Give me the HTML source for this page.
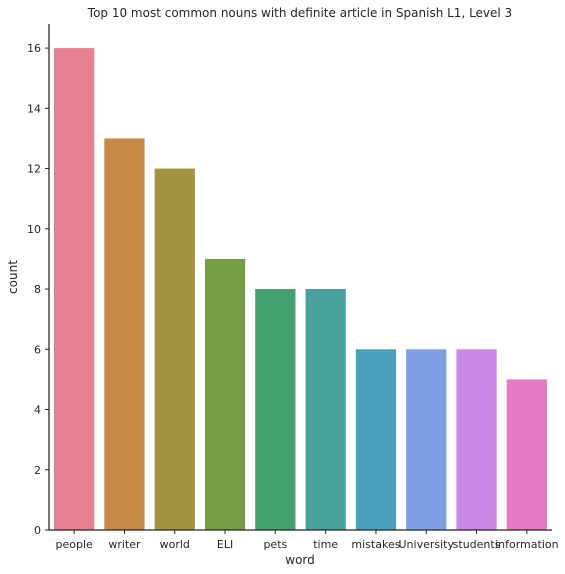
<!DOCTYPE html>
<html><head><meta charset="utf-8"><style>
html,body{margin:0;padding:0;background:#fff;}
svg{display:block;font-family:"DejaVu Sans","Liberation Sans",sans-serif;}
</style></head><body>
<svg id="chart" width="565" height="574"></svg>
<script>
const categories=["people","writer","world","ELI","pets","time","mistakes","University","students","information"];
const counts=[16,13,12,9,8,8,6,6,6,5];
const yTicks=[0,2,4,6,8,10,12,14,16];
const colors=["#e68193","#c68949","#a19342","#769d43","#44a06e","#47a09c","#4ca0bb","#80a0e6","#c987e6","#e47ac5"];
const svg=document.getElementById('chart');
const NS="http://www.w3.org/2000/svg";
const L=49,R=552,T=24,B=530,yMax=16.8;
const x=i=>L+(i+0.5)*(R-L)/categories.length;
const y=v=>B-v*(B-T)/yMax;
const bw=0.8*(R-L)/categories.length;
function mk(tag,attrs,parent){const e=document.createElementNS(NS,tag);for(const k in attrs)e.setAttribute(k,attrs[k]);(parent||svg).appendChild(e);return e;}
const title=mk('text',{x:300,y:17,'text-anchor':'middle','font-size':12,fill:'#262626'});
title.textContent="Top 10 most common nouns with definite article in Spanish L1, Level 3";


categories.forEach((c,i)=>{
  const r=mk('rect',{x:x(i)-bw/2,y:y(counts[i]),width:bw,height:B-y(counts[i]),fill:colors[i]});
  
  
  const tk=mk('line',{x1:x(i),x2:x(i),y1:B,y2:B+4,stroke:'#262626'});
  
  
  const t=mk('text',{x:x(i),y:B+18,'text-anchor':'middle','font-size':11,fill:'#262626'});
  t.textContent=c;
  
  
});
yTicks.forEach(v=>{
  const tk=mk('line',{x1:L-4,x2:L,y1:y(v),y2:y(v),stroke:'#262626'});
  
  
  const t=mk('text',{x:L-8,y:y(v)+4,'text-anchor':'end','font-size':11,fill:'#262626'});
  t.textContent=v;
  
  
});
const ya=mk('line',{x1:L,x2:L,y1:T,y2:B,stroke:'#262626','stroke-width':1.25});


const xa=mk('line',{x1:L,x2:R,y1:B,y2:B,stroke:'#262626','stroke-width':1.25});


const xt=mk('text',{x:300,y:564,'text-anchor':'middle','font-size':12,fill:'#262626'});
xt.textContent="word";


const yt=mk('text',{x:17,y:277,'text-anchor':'middle','font-size':12,fill:'#262626',transform:'rotate(-90 17 277)'});
yt.textContent="count";


</script>
</body></html>
